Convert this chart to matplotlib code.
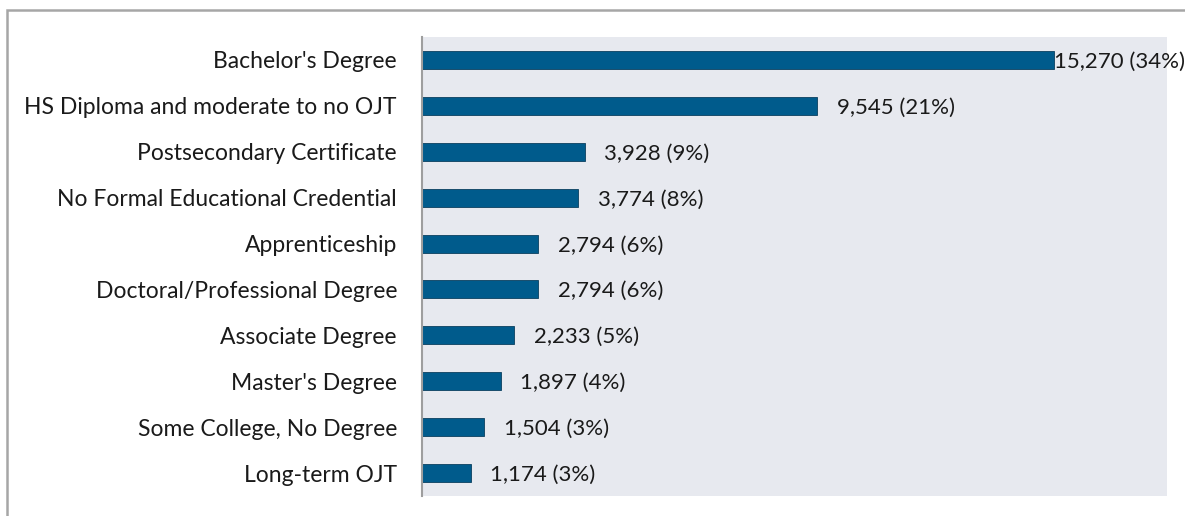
import matplotlib.pyplot as plt
from matplotlib.patches import Rectangle

categories = [
    "Bachelor's Degree",
    "HS Diploma and moderate to no OJT",
    "Postsecondary Certificate",
    "No Formal Educational Credential",
    "Apprenticeship",
    "Doctoral/Professional Degree",
    "Associate Degree",
    "Master's Degree",
    "Some College, No Degree",
    "Long-term OJT",
]
jobs = [15270, 9545, 3928, 3774, 2794, 2794, 2233, 1897, 1504, 1174]
shares = [34, 21, 9, 8, 6, 6, 5, 4, 3, 3]

plt.rcParams["font.family"] = ["Lato", "DejaVu Sans"]

fig = plt.figure(figsize=(11.85, 5.16), dpi=100)
ax = fig.add_axes([422 / 1185, 1 - 496 / 516, (1167 - 422) / 1185, (496 - 37) / 516])
ax.set_facecolor("#E7E9EF")

ypos = list(range(len(categories)))
ax.barh(ypos, jobs, height=0.39, color="#005B8C", edgecolor="#0A3F5F", linewidth=0.6)
for i, (v, s) in enumerate(zip(jobs, shares)):
    off = 0 if i == 0 else 480
    ax.text(v + off, i + 0.04, f"{v:,} ({s}%)", va="center", ha="left", fontsize=16,
            color="#1a1a1a", clip_on=False)

ax.set_xlim(0, 18000)
ax.set_ylim(len(categories) - 0.5, -0.5)
ax.set_yticks(ypos)
ax.set_yticklabels(categories, fontsize=16.5, color="#1a1a1a")
ax.set_xticks([])
ax.tick_params(axis="y", length=0, pad=18)
for side in ["top", "right", "bottom"]:
    ax.spines[side].set_visible(False)
ax.spines["left"].set_color("#9E9E9E")
ax.spines["left"].set_linewidth(1.5)

# outer chart frame (cropped)
fig.patches.append(Rectangle((7 / 1185, -0.1), 1.2, 1 - 10 / 516 + 0.1,
                             transform=fig.transFigure, fill=False,
                             edgecolor="#A6A6A6", linewidth=1.8))

fig.savefig("out.png", dpi=100)
